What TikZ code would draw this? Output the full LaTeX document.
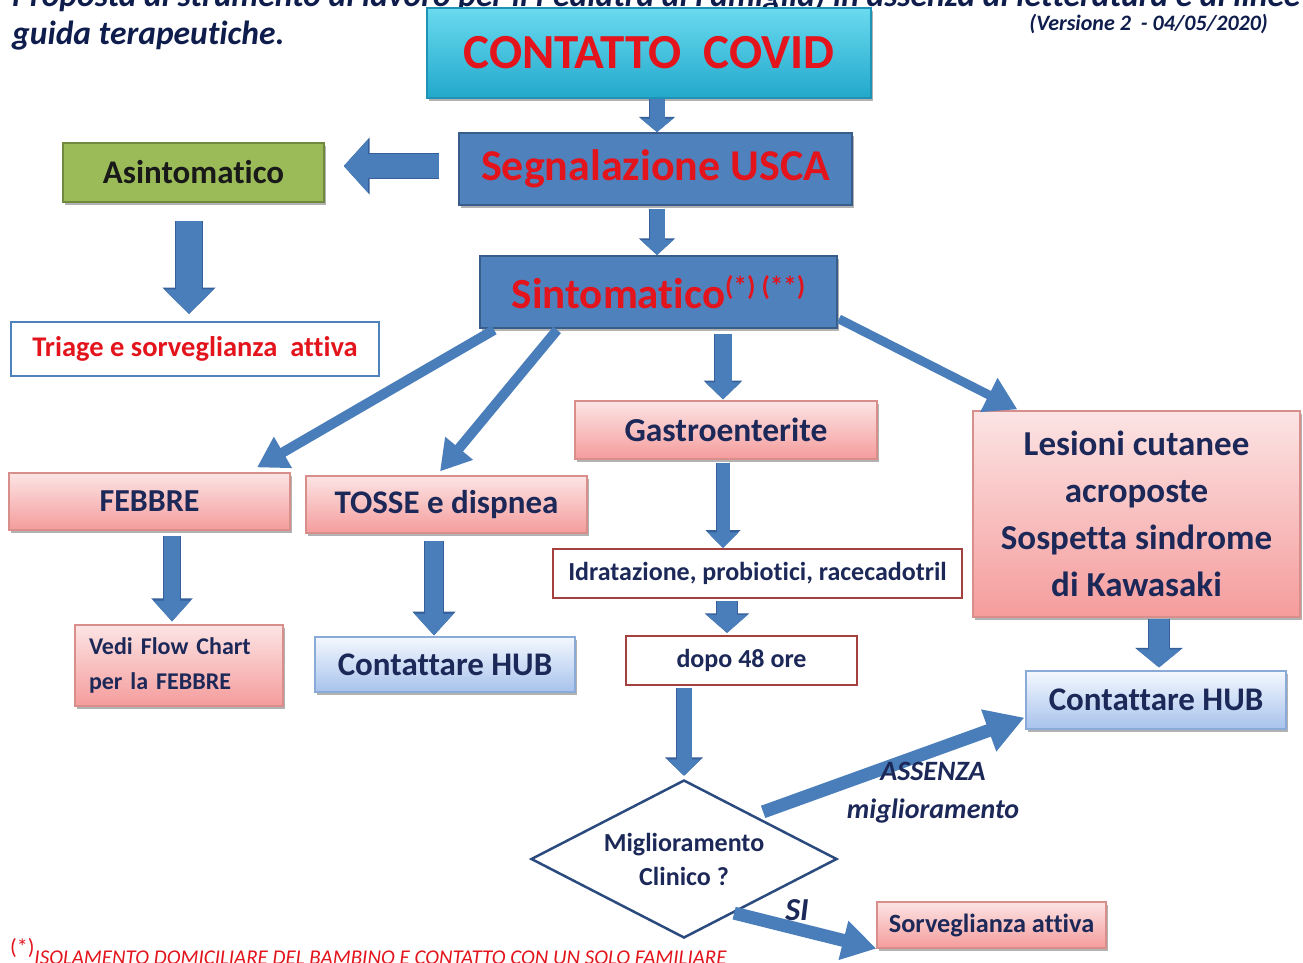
\documentclass[tikz,border=0pt]{standalone}
\usepackage{fontspec}
\setmainfont{Carlito}[Ligatures=NoCommon]
\usetikzlibrary{arrows.meta,calc,shapes.geometric,shadows}

\definecolor{ink}{HTML}{1B2858}
\definecolor{titleink}{HTML}{0F1D4D}
\definecolor{alert}{HTML}{E3141C}
\definecolor{arrfill}{HTML}{4A7EBB}
\definecolor{arrline}{HTML}{35609A}
\definecolor{uscafill}{HTML}{4F81BD}
\definecolor{uscaline}{HTML}{385D8A}
\definecolor{greenfill}{HTML}{9BBB59}
\definecolor{greenline}{HTML}{71893F}
\definecolor{pinktop}{HTML}{FCE4E4}
\definecolor{pinkbot}{HTML}{F59C9C}
\definecolor{pinkline}{HTML}{D88F8C}
\definecolor{bluetop}{HTML}{F4F8FE}
\definecolor{bluebot}{HTML}{A7C2EC}
\definecolor{blueline}{HTML}{8AAAD8}
\definecolor{cyantop}{HTML}{6ADAEF}
\definecolor{cyanbot}{HTML}{22A8CB}
\definecolor{cyanline}{HTML}{1F93B5}
\definecolor{wineline}{HTML}{A4403E}
\definecolor{diamline}{HTML}{2B4B7E}

\newcommand{\fsz}[2]{\fontsize{#1}{#2}\selectfont}

\tikzset{
  base/.style={rectangle, inner sep=0pt, align=center, text=ink},
  shadowed/.style={drop shadow={shadow xshift=2pt, shadow yshift=-3pt, opacity=0.3, fill=black}},
  pinkbox/.style={base, shadowed, draw=pinkline, line width=1.2pt, top color=pinktop, bottom color=pinkbot},
  bluebox/.style={base, shadowed, draw=blueline, line width=1.2pt, top color=bluetop, bottom color=bluebot},
  cyanbox/.style={base, shadowed, draw=cyanline, line width=1.5pt, top color=cyantop, bottom color=cyanbot, text=alert},
  uscabox/.style={base, shadowed, draw=uscaline, line width=1.8pt, fill=uscafill, text=alert},
  greenbox/.style={base, shadowed, draw=greenline, line width=1.5pt, fill=greenfill, text=black!90},
  whitebox/.style={base, draw=wineline, line width=2.2pt, fill=white},
  blk/.style n args={3}{draw=arrfill, line width=#1,
    -{Triangle[width=0pt #2, length=0pt #3]},
    preaction={draw=arrline, line width=#1+1.8pt}},
  fatline/.style n args={3}{draw=arrfill, line width=#1,
    -{Triangle[width=#2, length=#3]}},
  lbl/.style={inner sep=0pt, align=center, text=ink},
}

\begin{document}
\begin{tikzpicture}[x=1pt,y=-1pt]
\useasboundingbox (0,0) rectangle (1303,962);
\fill[white] (0,0) rectangle (1303,962);

% heading and version
\node[anchor=base west, inner sep=0pt, text=titleink, font=\bfseries\itshape\fsz{33.5}{36}] (head1) at (12,6)
  {Proposta di strumento di lavoro per il Pediatra di Famiglia) in assenza di letteratura e di linee};
\node[anchor=base west, inner sep=0pt, text=titleink, font=\bfseries\itshape\fsz{33.5}{36}] (head2) at (12,44)
  {guida terapeutiche.};
\node[anchor=base east, inner sep=0pt, text=titleink, font=\bfseries\itshape\fsz{22}{24}] (vers) at (1268,30)
  {(Versione 2 \ - 04/05/2020)};

% boxes
\node[cyanbox, minimum width=444pt, minimum height=90pt, font=\bfseries\fsz{49}{52}] (covid) at (649,53) {CONTATTO\ \ COVID};
\node[uscabox, minimum width=393pt, minimum height=72pt, font=\bfseries\fsz{44}{46}] (usca) at (655.5,169) {Segnalazione USCA};
\node[uscabox, minimum width=357pt, minimum height=72pt, font=\bfseries\fsz{43}{46}] (sint) at (658.5,292)
  {Sintomatico\raisebox{13pt}{\fsz{27}{27}(*) (**)}};
\node[greenbox, minimum width=261pt, minimum height=59pt, font=\bfseries\fsz{33}{34}] (asint) at (193.5,172.5) {Asintomatico};
\node[base, draw=uscafill, line width=2pt, fill=white, text=alert, minimum width=368pt, minimum height=54pt,
      font=\bfseries\fsz{28.5}{30}] (triage) at (195,349)
  {Triage e sorveglianza\ \ attiva};

\node[pinkbox, minimum width=281pt, minimum height=57pt, font=\bfseries\fsz{32}{33}] (febbre) at (149.5,501.5) {FEBBRE};
\node[pinkbox, minimum width=281pt, minimum height=57pt, font=\bfseries\fsz{33}{34}] (tosse) at (446.5,504.5) {TOSSE e dispnea};
\node[pinkbox, minimum width=302pt, minimum height=58pt, font=\bfseries\fsz{33.5}{34}] (gastro) at (726,430) {Gastroenterite};
\node[pinkbox, minimum width=327pt, minimum height=206pt, font=\bfseries\fsz{35}{47}] (lesioni) at (1136.5,514)
  {Lesioni cutanee\\acroposte\\Sospetta sindrome\\di Kawasaki};
\node[pinkbox, minimum width=208pt, minimum height=81pt, text width=180pt, align=left,
      font=\bfseries\fsz{24}{35}] (vedi) at (179,665.5)
  {Vedi Flow Chart\\per la FEBBRE};
\node[bluebox, minimum width=260pt, minimum height=55pt, font=\bfseries\fsz{33}{34}] (hubL) at (445,664.5) {Contattare HUB};
\node[whitebox, minimum width=409pt, minimum height=49pt, font=\bfseries\fsz{26}{28}] (idra) at (757.5,573.5)
  {Idratazione, probiotici, racecadotril};
\node[whitebox, minimum width=231pt, minimum height=49pt, font=\bfseries\fsz{26}{28}] (dopo) at (741.5,660.5) {dopo 48 ore};
\node[diamond, draw=diamline, line width=2.5pt, fill=white, minimum width=306pt, minimum height=158pt,
      aspect=1.94, inner sep=0pt, align=center, text=ink, font=\bfseries\fsz{26}{34}] (diam) at (684,859)
  {Miglioramento\\Clinico ?};
\node[bluebox, minimum width=260pt, minimum height=58pt, font=\bfseries\fsz{33}{34}] (hubR) at (1156,700) {Contattare HUB};
\node[pinkbox, minimum width=229pt, minimum height=46pt, font=\bfseries\fsz{26.3}{28}] (sorv) at (991.5,925) {Sorveglianza attiva};

% block arrows
\draw[blk={15pt}{2.1}{0.9}] ($(covid.south)+(8,0)$) -- ($(usca.north)+(1.5,0)$);
\draw[blk={15pt}{2.1}{1}] ($(usca.south)+(1.5,3)$) -- ($(sint.north)+(-1.5,0)$);
\draw[blk={24pt}{2.15}{1}] ($(usca.west)+(-19,-3)$) -- ($(asint.east)+(19,-6.5)$);
\draw[blk={26pt}{1.85}{0.95}] ($(asint.south)+(-4.5,18)$) -- ($(triage.north)+(-6,-7)$);
\draw[blk={17pt}{2}{1}] ($(sint.south)+(64.5,5)$) -- ($(gastro.north)+(-3,-1)$);
\draw[blk={13pt}{2.3}{1.2}] ($(gastro.south)+(-3,3)$) -- ($(idra.north)+(-34.5,0)$);
\draw[blk={20pt}{2}{0.9}] ($(idra.south)+(-30.5,2)$) -- ($(dopo.north)+(-14.5,-2)$);
\draw[blk={15pt}{2.2}{1.1}] ($(dopo.south)+(-57.5,2)$) -- ($(diam.north)+(0,-3)$);
\draw[blk={16pt}{2.25}{1.3}] ($(febbre.south)+(22.5,5)$) -- ($(vedi.north)+(-7,-3)$);
\draw[blk={18pt}{2.1}{1.2}] ($(tosse.south)+(-12.5,7)$) -- ($(hubL.north)+(-11,-1)$);
\draw[blk={20pt}{2.15}{0.9}] ($(lesioni.south)+(22.5,1)$) -- ($(hubR.north)+(3,-3)$);

% wide diagonal arrows
\draw[fatline={10pt}{34pt}{30pt}] ($(sint.south west)+(15,1)$) -- ($(febbre.north)+(107.5,-5)$);
\draw[fatline={10pt}{34pt}{30pt}] ($(sint.south west)+(78,1)$) -- ($(tosse.north)+(-6.5,-4)$);
\draw[fatline={9pt}{36pt}{32pt}] ($(sint.south east)+(1,-10)$) -- ($(lesioni.north west)+(45,-1)$);
\draw[fatline={13pt}{42pt}{38pt}] ($(diam.north east)+(2,-7)$) -- ($(hubR.south west)+(-1,-12)$);
\draw[fatline={13pt}{38pt}{34pt}] ($(diam.south east)+(-27,14)$) -- (sorv.south west);

% arrow labels
\node[lbl, font=\bfseries\itshape\fsz{28}{38}] (noimpr) at (933,793) {ASSENZA\\miglioramento};
\node[lbl, font=\bfseries\itshape\fsz{32}{34}] (yes) at (797,910) {SI};

% footnote
\node[anchor=base west, inner sep=0pt, text=alert, font=\itshape\fsz{21}{22}] (note) at (10,964)
  {\raisebox{10pt}{\upshape\fsz{22}{22}(*)}ISOLAMENTO DOMICILIARE DEL BAMBINO E CONTATTO CON UN SOLO FAMILIARE};
\end{tikzpicture}
\end{document}
